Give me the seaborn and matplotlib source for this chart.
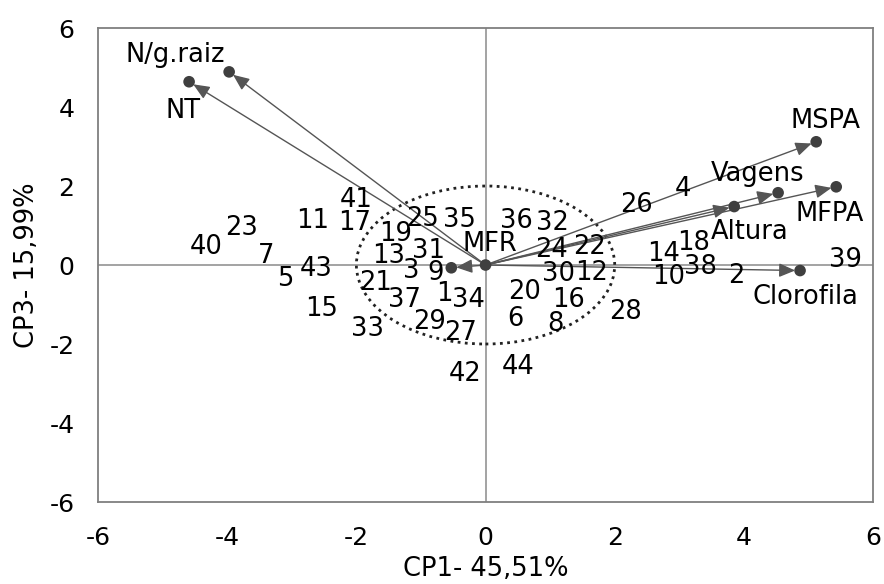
import matplotlib
matplotlib.use("Agg")
import matplotlib.pyplot as plt
import seaborn as sns
import pandas as pd
import numpy as np
from matplotlib.patches import Ellipse

# ---- data: observations (genotype numbers) ----
obs_ids = [str(i) for i in range(1, 45)]
obs_x = [-0.64, 3.89, -1.15, 3.06, -3.10, 0.46, -3.40, 1.09, -0.78, 2.83,
         -2.68, 1.64, -1.50, 2.75, -2.54, 1.28, -2.02, 3.22, -1.40, 0.61,
         -1.71, 1.61, -3.77, 1.02, -0.97, 2.33, -0.39, 2.16, -0.86, 1.13,
         -0.89, 1.04, -1.83, -0.26, -0.40, 0.48, -1.25, 3.32, 5.57, -4.33,
         -2.01, -0.32, -2.62, 0.50]
obs_y = [-0.68, -0.21, -0.08, 1.98, -0.30, -1.31, 0.28, -1.43, -0.13, -0.25,
         1.18, -0.13, 0.30, 0.34, -1.06, -0.82, 1.13, 0.63, 0.84, -0.63,
         -0.39, 0.51, 0.99, 0.44, 1.22, 1.57, -1.67, -1.14, -1.39, -0.17,
         0.41, 1.12, -1.56, -0.82, 1.21, 1.18, -0.83, 0.00, 0.20, 0.52,
         1.71, -2.70, -0.04, -2.51]

# ---- data: variable vectors ----
var_names = ["N/g.raiz", "NT", "MSPA", "Vagens", "MFPA", "Altura", "Clorofila", "MFR"]
var_x = [-3.97, -4.59, 5.12, 4.53, 5.43, 3.85, 4.87, -0.53]
var_y = [4.89, 4.64, 3.12, 1.83, 1.98, 1.48, -0.14, -0.07]

x_ticks = [-6, -4, -2, 0, 2, 4, 6]
y_ticks = [-6, -4, -2, 0, 2, 4, 6]
x_label = "CP1- 45,51%"
y_label = "CP3- 15,99%"

# label offsets for the vector names (points)
name_offsets = {
    "N/g.raiz": (-39, 13.6), "NT": (-4, -19), "MSPA": (6.5, 16.8),
    "Vagens": (-14.4, 15), "MFPA": (-4.6, -18), "Altura": (11, -16.8),
    "Clorofila": (3.7, -17.6), "MFR": (28, 18.7),
}

sns.set_theme(style="white")
plt.rcParams["font.family"] = ["DejaVu Sans"]

fig, ax = plt.subplots(figsize=(8.84, 5.84), dpi=100)
fig.subplots_adjust(left=0.1109, right=0.9876, bottom=0.1404, top=0.952)

ax.set_xlim(-6, 6)
ax.set_ylim(-6, 6)

# zero lines
ax.axhline(0, color="#8a8a8a", lw=1.1, zorder=1)
ax.axvline(0, color="#8a8a8a", lw=1.1, zorder=1)

# dotted circle
ax.add_patch(Ellipse((0, 0), 4, 4, fill=False, ls=(0, (1, 1.6)),
                     lw=2.0, edgecolor="#222222", zorder=2))

# arrows
for vx, vy in zip(var_x, var_y):
    ax.annotate("", xy=(vx, vy), xytext=(0, 0),
                arrowprops=dict(arrowstyle="-|>,head_length=0.7,head_width=0.3",
                                color="#555555", lw=1.0, shrinkA=0, shrinkB=3.5,
                                mutation_scale=14),
                zorder=3)

vec_df = pd.DataFrame({"x": var_x + [0.0], "y": var_y + [0.0]})
sns.scatterplot(data=vec_df, x="x", y="y", ax=ax, s=70, color="#3f3f3f",
                edgecolor="none", zorder=4, legend=False)

txt_size = 18.5
half_cap = 6.8
for name, vx, vy in zip(var_names, var_x, var_y):
    dx, dy = name_offsets[name]
    ax.annotate(name, xy=(vx, vy), xytext=(dx, dy - half_cap),
                textcoords="offset points", ha="center", va="baseline",
                fontsize=txt_size, color="black", zorder=5)

for lab, ox, oy in zip(obs_ids, obs_x, obs_y):
    ax.annotate(lab, xy=(ox, oy), xytext=(0, -half_cap),
                textcoords="offset points", ha="center", va="baseline",
                fontsize=txt_size, color="black", zorder=5)

ax.set_xticks(x_ticks)
ax.set_yticks(y_ticks)
ax.set_xticklabels([str(t) for t in x_ticks])
ax.set_yticklabels([str(t) for t in y_ticks])
ax.tick_params(axis="both", direction="in", length=7, width=1.1,
               color="#7f7f7f", labelsize=18, labelcolor="black")
ax.tick_params(axis="x", pad=17)
ax.tick_params(axis="y", pad=17)
ax.set_xlabel(x_label, fontsize=18.5, labelpad=4.5, color="black")
ax.set_ylabel(y_label, fontsize=18.5, labelpad=7, color="black")
for sp in ax.spines.values():
    sp.set_color("#7f7f7f")
    sp.set_linewidth(1.3)
ax.grid(False)

fig.savefig("out.png", dpi=100)
